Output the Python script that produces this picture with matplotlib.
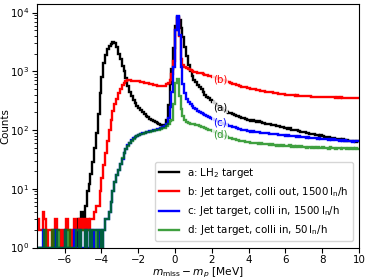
import numpy as np
import matplotlib
matplotlib.use("Agg")
import matplotlib.pyplot as plt

# bin edges: 0.1 MeV bins from -7.5 to 10 MeV (175 bins)
bin_edges = np.round(np.arange(-7.5, 10.0001, 0.1), 3)

# a: LH2 target
counts_a = [
    0, 1, 0, 0, 1, 0, 0, 0, 1, 0,
    0, 1, 0, 1, 0, 0, 1, 0, 1, 1,
    2, 1, 3, 2, 4,
    3, 5, 9, 12, 18, 28, 50, 90, 190, 420,
    800, 1400, 1900, 2350, 2700, 2950, 3100, 3000, 2600, 2000,
    1600, 1250, 1000, 780, 560, 450, 380, 330, 290, 260,
    235, 215, 200, 185, 175, 165, 155, 148, 140, 135,
    130, 125, 122, 118, 120, 150, 270, 600, 1100, 2500,
    6000, 8500, 7500, 5500, 3800, 2600, 1800, 1300, 1000, 820,
    720, 650, 590, 540, 490, 440, 400, 370, 345, 325,
    305, 290, 272, 258, 245, 235, 222, 212, 205, 198,
    192, 186, 180, 175, 170, 166, 162, 158, 154, 150,
    148, 144, 146, 140, 138, 141, 135, 133, 130, 128,
    126, 128, 122, 120, 121, 116, 117, 113, 112, 110,
    108, 105, 107, 102, 101, 99, 100, 96, 94, 92,
    91, 89, 90, 86, 85, 87, 83, 82, 80, 81,
    78, 77, 75, 76, 73, 72, 74, 70, 71, 69,
    68, 69, 66, 67, 65, 66, 64, 66, 63, 65,
]

# b: Jet target, colli out, 1500 ln/h
counts_b = [
    3, 2, 2, 4, 3, 1, 2, 2, 1, 2,
    3, 2, 2, 1, 2, 2, 3, 2, 1, 2,
    3, 2, 2, 3, 2,
    3, 2, 3, 2, 3, 3, 4, 5, 5, 9,
    15, 25, 40, 65, 100, 150, 210, 280, 340, 420,
    500, 580, 640, 680, 700, 700, 690, 690, 680, 680,
    670, 660, 650, 640, 630, 620, 610, 600, 590, 575,
    565, 560, 560, 565, 570, 600, 640, 720, 900, 1500,
    5000, 8000, 4000, 1600, 1300, 1200, 1150, 1080, 1040, 1010,
    990, 970, 950, 935, 920, 900, 880, 860, 845, 830,
    810, 790, 770, 750, 730, 715, 700, 680, 665, 650,
    635, 615, 600, 590, 575, 560, 550, 540, 530, 520,
    515, 505, 500, 490, 482, 478, 470, 465, 458, 452,
    448, 440, 438, 430, 425, 422, 418, 412, 410, 405,
    402, 398, 396, 392, 390, 386, 388, 382, 380, 378,
    380, 375, 372, 374, 370, 368, 371, 366, 368, 364,
    366, 362, 364, 360, 362, 358, 361, 357, 359, 356,
    358, 354, 356, 352, 355, 350, 354, 351, 353, 350,
]

# c: Jet target, colli in, 1500 ln/h
counts_c = [
    1, 0, 1, 2, 1, 0, 1, 1, 0, 1,
    2, 1, 0, 1, 1, 2, 1, 0, 1, 1,
    2, 1, 1, 2, 1,
    1, 2, 1, 1, 2, 1, 2, 2, 1, 2,
    1, 2, 3, 3, 4, 6, 9, 13, 17, 21,
    26, 32, 40, 48, 55, 61, 67, 72, 76, 79,
    82, 85, 88, 90, 92, 94, 96, 98, 100, 102,
    104, 106, 109, 112, 118, 128, 160, 250, 450, 1200,
    5000, 8700, 4200, 1200, 600, 420, 340, 300, 275, 255,
    240, 225, 212, 202, 193, 185, 178, 171, 165, 159,
    154, 149, 144, 140, 136, 132, 128, 125, 122, 119,
    116, 113, 111, 109, 106, 104, 102, 100, 99, 97,
    96, 94, 95, 92, 91, 92, 89, 90, 88, 89,
    88, 86, 87, 85, 84, 85, 82, 83, 81, 82,
    80, 81, 79, 80, 78, 79, 77, 78, 76, 77,
    76, 74, 75, 73, 74, 72, 73, 71, 72, 70,
    71, 69, 70, 68, 70, 67, 69, 67, 68, 66,
    67, 65, 67, 64, 66, 65, 63, 66, 64, 65,
]

# d: Jet target, colli in, 50 ln/h
counts_d = [
    1, 1, 0, 1, 2, 1, 1, 0, 2, 1,
    1, 2, 1, 1, 0, 2, 1, 2, 1, 1,
    1, 2, 2, 1, 2,
    2, 1, 2, 2, 1, 2, 2, 1, 2, 2,
    1, 2, 3, 3, 4, 6, 9, 13, 17, 21,
    26, 33, 40, 47, 54, 60, 66, 71, 75, 78,
    81, 84, 87, 89, 91, 93, 94, 95, 97, 99,
    100, 102, 104, 107, 110, 116, 125, 140, 150, 280,
    620, 730, 380, 230, 170, 150, 138, 132, 128, 125,
    128, 124, 121, 118, 114, 111, 108, 105, 102, 100,
    97, 94, 91, 88, 85, 82, 80, 78, 76, 74,
    72, 71, 69, 68, 67, 66, 65, 64, 63, 62,
    62, 60, 61, 59, 60, 58, 59, 57, 58, 57,
    58, 56, 57, 55, 56, 54, 56, 54, 55, 53,
    54, 53, 55, 52, 53, 51, 54, 52, 53, 51,
    52, 50, 52, 51, 49, 52, 50, 51, 49, 50,
    51, 49, 50, 48, 51, 49, 50, 48, 49, 50,
    48, 50, 49, 47, 50, 48, 49, 47, 49, 48,
]

legend_labels = [
    r"a: LH$_2$ target",
    r"b: Jet target, colli out, 1500$\,\mathrm{l_n}$/h",
    r"c: Jet target, colli in, 1500$\,\mathrm{l_n}$/h",
    r"d: Jet target, colli in, 50$\,\mathrm{l_n}$/h",
]
short_labels = ["(a)", "(b)", "(c)", "(d)"]
label_x = 2.45

series = [counts_a, counts_b, counts_c, counts_d]
colors = ["black", "red", "blue", "green"]
alphas = [1.0, 1.0, 1.0, 0.75]

fs = 7.4
fig = plt.figure(figsize=(3.74, 2.8), dpi=100)
ax = fig.add_axes([0.099, 0.116, 0.861, 0.870])

for vals, col, al, lab in zip(series, colors, alphas, legend_labels):
    ax.stairs(np.array(vals, dtype=float), bin_edges, color=col, lw=1.7,
              alpha=al, baseline=None, label=lab)

ax.set_yscale("log")
ax.set_xlim(-7.5, 10)
ax.set_ylim(1, 14000)

centers = 0.5 * (bin_edges[:-1] + bin_edges[1:])
for vals, col, al, sl in zip(series, colors, alphas, short_labels):
    yv = np.interp(label_x, centers, np.array(vals, dtype=float))
    ax.text(label_x, yv, sl, color=col, alpha=1.0 if al == 1 else 0.8,
            fontsize=fs, ha="center", va="center",
            bbox=dict(boxstyle="square,pad=0.1", fc="white", ec="none", alpha=0.8))

ax.tick_params(labelsize=fs, pad=2)
ax.set_xlabel(r"$m_\mathrm{miss} - m_p$ [MeV]", fontsize=fs + 0.3, labelpad=0)
ax.set_ylabel("Counts", fontsize=fs, labelpad=0)
ax.legend(loc="lower right", fontsize=fs, borderaxespad=0.6)

fig.savefig("out.png", dpi=100)
